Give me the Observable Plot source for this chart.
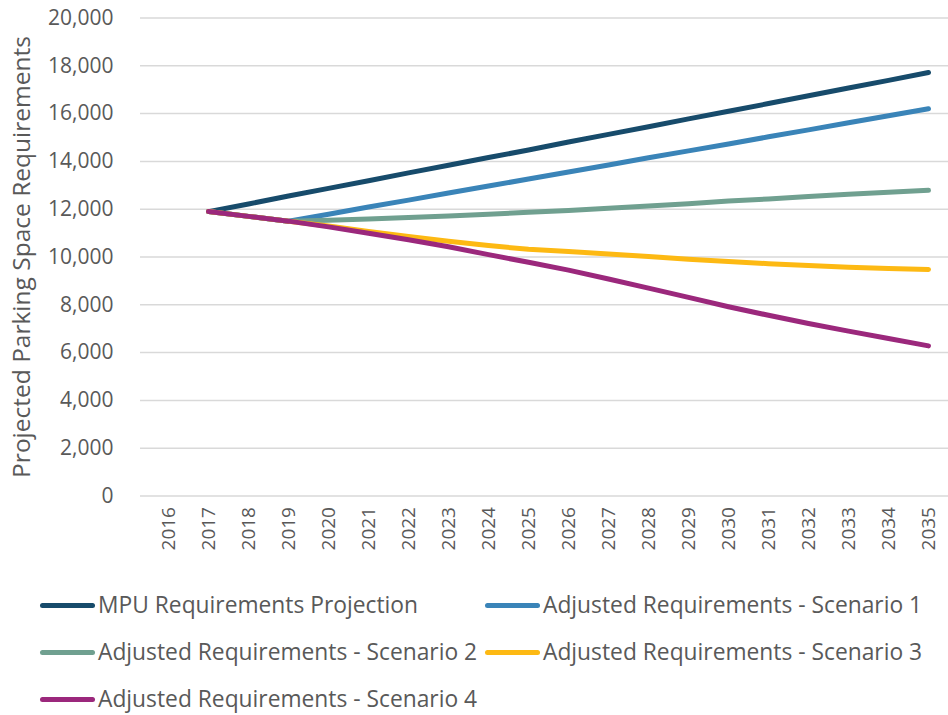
<!DOCTYPE html>
<html>
<head>
<meta charset="utf-8">
<script src="https://cdn.jsdelivr.net/npm/d3@7"></script>
<script src="https://cdn.jsdelivr.net/npm/@observablehq/plot@0.6"></script>
<style>
  body { margin: 0; background: #fff; }
  #chart { position: relative; width: 948px; height: 715px; overflow: hidden; font-family: "Open Sans", sans-serif; color: #595959; }
  #chart svg { position: absolute; left: 0; top: 0; overflow: hidden; }
  .item { position: absolute; display: flex; align-items: center; font-size: 22.8px; white-space: nowrap; line-height: 1; }
  .swatch { width: 55px; height: 5px; border-radius: 3px; margin-right: 3px; }
</style>
</head>
<body>
<div id="chart"></div>
<script>
// Fiscal years on the category axis
const years = [2016, 2017, 2018, 2019, 2020, 2021, 2022, 2023, 2024, 2025, 2026, 2027, 2028, 2029, 2030, 2031, 2032, 2033, 2034, 2035];

// Projected parking space requirements per year (null = no value)
const mpuProjection = [null, 11900, 12220, 12550, 12870, 13190, 13520, 13840, 14160, 14480, 14810, 15130, 15450, 15780, 16100, 16420, 16750, 17070, 17390, 17720];
const scenario1 = [null, 11900, 11700, 11500, 11790, 12090, 12380, 12680, 12970, 13260, 13560, 13850, 14150, 14440, 14730, 15030, 15320, 15620, 15910, 16200];
const scenario2 = [null, 11900, 11700, 11500, 11540, 11590, 11650, 11720, 11790, 11870, 11950, 12040, 12130, 12230, 12340, 12430, 12530, 12630, 12710, 12790];
const scenario3 = [null, 11900, 11700, 11500, 11300, 11070, 10860, 10660, 10480, 10320, 10230, 10130, 10020, 9910, 9810, 9720, 9640, 9570, 9520, 9480];
const scenario4 = [null, 11900, 11700, 11500, 11260, 10990, 10720, 10430, 10100, 9780, 9450, 9080, 8700, 8310, 7920, 7560, 7220, 6900, 6590, 6280];

const seriesNames = [
  "MPU Requirements Projection",
  "Adjusted Requirements - Scenario 1",
  "Adjusted Requirements - Scenario 2",
  "Adjusted Requirements - Scenario 3",
  "Adjusted Requirements - Scenario 4"
];
const seriesValues = [mpuProjection, scenario1, scenario2, scenario3, scenario4];
const seriesColors = ["#174b6b", "#3a84b8", "#70a090", "#fdb913", "#9b287c"];

const yTicks = [0, 2000, 4000, 6000, 8000, 10000, 12000, 14000, 16000, 18000, 20000];

const rowsFor = (values, name) =>
  years.map((year, i) => ({year, value: values[i], series: name})).filter(d => d.value != null);

const lineMarks = seriesNames.map((name, i) =>
  Plot.line(rowsFor(seriesValues[i], name), {
    x: "year", y: "value", stroke: seriesColors[i],
    strokeWidth: 5, strokeLinecap: "round", strokeLinejoin: "round"
  })
);

const chart = Plot.plot({
  width: 948,
  height: 555,
  marginTop: 17.5,
  marginBottom: 59.5,
  marginLeft: 140,
  marginRight: -7,
  style: {fontFamily: "Open Sans, sans-serif", fontSize: "21px", color: "#595959", background: "transparent"},
  x: {type: "point", domain: years, padding: 0.5},
  y: {domain: [0, 20000]},
  marks: [
    Plot.ruleY(yTicks, {stroke: "#d9d9d9", strokeWidth: 1.5}),
    Plot.axisY(yTicks, {
      tickSize: 0, tickPadding: 27, tickFormat: d3.format(","),
      fontSize: 21, label: null
    }),
    Plot.text(["Projected Parking Space Requirements"], {
      frameAnchor: "left", textAnchor: "middle", dx: -118, rotate: -90,
      fontSize: 24.5, fill: "#595959"
    }),
    Plot.axisX(years, {
      tickSize: 0, tickPadding: 11, tickRotate: -90, tickFormat: d => `${d}`,
      fontSize: 19, label: null
    }),
    ...lineMarks
  ]
});
document.getElementById("chart").appendChild(chart);

// Legend below the plot
const legendSlots = [
  {left: 40, top: 605}, {left: 485, top: 605},
  {left: 40, top: 652}, {left: 485, top: 652},
  {left: 40, top: 699}
];
seriesNames.forEach((name, i) => {
  const item = document.createElement("div");
  item.className = "item";
  item.style.left = legendSlots[i].left + "px";
  item.style.top = (legendSlots[i].top - 12) + "px";
  item.style.height = "24px";
  const sw = document.createElement("span");
  sw.className = "swatch";
  sw.style.background = seriesColors[i];
  const label = document.createElement("span");
  label.textContent = name;
  item.appendChild(sw);
  item.appendChild(label);
  document.getElementById("chart").appendChild(item);
});
</script>
</body>
</html>
